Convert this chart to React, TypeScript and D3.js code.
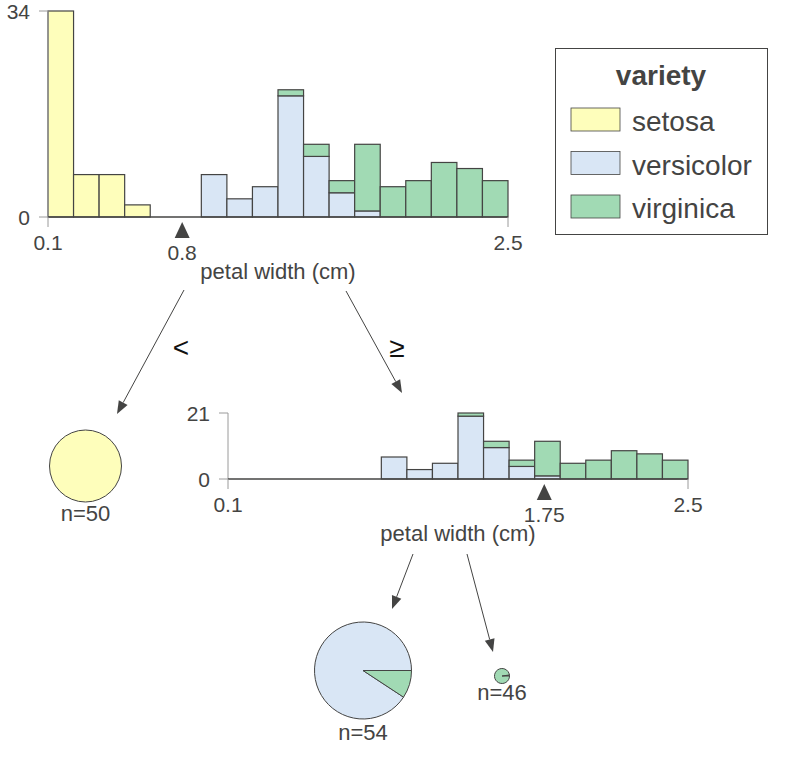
import * as d3 from 'd3';

const CLASSES = ['setosa', 'versicolor', 'virginica'];
const COLORS = ['#FEFEBB', '#D9E6F5', '#a1dab4'];
const EDGE = '#444443';
const AXIS_GRAY = '#9a9a9a';
const FONT = '"Liberation Sans", Arial, Helvetica, sans-serif';

// petal width histogram, 18 bins from 0.1 to 2.5
const X_MIN = 0.1;
const X_MAX = 2.5;
const N_BINS = 18;
const SETOSA = [34, 7, 7, 2, 0, 0, 0, 0, 0, 0, 0, 0, 0, 0, 0, 0, 0, 0];
const VERSICOLOR = [0, 0, 0, 0, 0, 0, 7, 3, 5, 20, 10, 4, 1, 0, 0, 0, 0, 0];
const VIRGINICA = [0, 0, 0, 0, 0, 0, 0, 0, 0, 1, 2, 2, 11, 5, 6, 9, 8, 6];
const EMPTY = VERSICOLOR.map(() => 0);

const ROOT_SPLIT = 0.8;
const NODE_SPLIT = 1.75;
const FEATURE = 'petal width (cm)';

// leaf class counts
const LEAF_LEFT = [50, 0, 0];
const LEAF_MID = [0, 49, 5];
const LEAF_RIGHT = [0, 1, 45];

interface HistProps {
  left: number;
  right: number;
  axisY: number;
  topY: number;
  series: number[][];
  split: number;
}

function Histogram({ left, right, axisY, topY, series, split }: HistProps) {
  const edges = d3.range(N_BINS + 1).map(i => X_MIN + (i * (X_MAX - X_MIN)) / N_BINS);
  const rows = d3.range(N_BINS).map(i => {
    const r: Record<string, number> = { bin: i };
    CLASSES.forEach((c, k) => { r[c] = series[k][i]; });
    return r;
  });
  const stacked = d3.stack<Record<string, number>>().keys(CLASSES)(rows);
  const yMax = d3.max(rows, r => CLASSES.reduce((s, c) => s + r[c], 0)) ?? 1;

  const x = d3.scaleLinear().domain([X_MIN, X_MAX]).range([left, right]);
  const y = d3.scaleLinear().domain([0, yMax]).range([axisY, topY]);
  const sx = x(split);

  return (
    <g>
      {stacked.map((layer, k) =>
        layer.map((d, i) => {
          if (d[1] - d[0] <= 0) return null;
          return (
            <rect key={`${k}-${i}`}
              x={x(edges[i])} y={y(d[1])}
              width={x(edges[i + 1]) - x(edges[i])} height={y(d[0]) - y(d[1])}
              fill={COLORS[k]} stroke={EDGE} strokeWidth={1.2} />
          );
        })
      )}
      {/* y axis */}
      <line x1={left} x2={left} y1={topY} y2={axisY} stroke={AXIS_GRAY} strokeWidth={1} />
      {[yMax, 0].map(t => (
        <g key={t}>
          <line x1={left - 9} x2={left} y1={y(t)} y2={y(t)} stroke={AXIS_GRAY} strokeWidth={1} />
          <text x={left - 18} y={y(t)} dy="0.36em" textAnchor="end" fontSize={21} fill={EDGE} fontFamily={FONT}>{t}</text>
        </g>
      ))}
      {/* x axis */}
      <line x1={left} x2={right} y1={axisY} y2={axisY} stroke={EDGE} strokeWidth={1.3} />
      {[X_MIN, X_MAX].map(t => (
        <g key={t}>
          <line x1={x(t)} x2={x(t)} y1={axisY} y2={axisY + 10} stroke={AXIS_GRAY} strokeWidth={1} />
          <text x={x(t)} y={axisY + 33} textAnchor="middle" fontSize={21} fill={EDGE} fontFamily={FONT}>{t}</text>
        </g>
      ))}
      <path d={`M${sx},${axisY + 5}L${sx + 7.5},${axisY + 21}L${sx - 7.5},${axisY + 21}Z`} fill={EDGE} />
      <text x={sx} y={axisY + 43} textAnchor="middle" fontSize={21} fill={EDGE} fontFamily={FONT}>{split}</text>
      <text x={(left + right) / 2} y={axisY + 62} textAnchor="middle" fontSize={22} fill={EDGE} fontFamily={FONT}>{FEATURE}</text>
    </g>
  );
}

function Pie({ cx, cy, r, counts, labelY }: { cx: number; cy: number; r: number; counts: number[]; labelY: number }) {
  const n = d3.sum(counts);
  const slices = d3.pie<number>().sort(null).value(v => v)
    .startAngle(Math.PI / 2).endAngle(Math.PI / 2 - 2 * Math.PI)(counts);
  const arc = d3.arc<d3.PieArcDatum<number>>().innerRadius(0).outerRadius(r);
  const nonZero = counts.filter(c => c > 0).length;
  return (
    <g>
      <g transform={`translate(${cx},${cy})`}>
        {nonZero === 1
          ? <circle r={r} fill={COLORS[counts.findIndex(c => c > 0)]} stroke={EDGE} strokeWidth={1} />
          : slices.map((s, i) => s.value > 0 && (
            <path key={i} d={arc(s) ?? ''} fill={COLORS[i]} stroke={EDGE} strokeWidth={1} strokeLinejoin="round" />
          ))}
      </g>
      <text x={cx} y={labelY} textAnchor="middle" fontSize={22} fill={EDGE} fontFamily={FONT}>n={n}</text>
    </g>
  );
}

function Arrow({ x1, y1, x2, y2 }: { x1: number; y1: number; x2: number; y2: number }) {
  const a = Math.atan2(y2 - y1, x2 - x1);
  const len = 13;
  const hw = 5;
  const bx = x2 - len * Math.cos(a);
  const by = y2 - len * Math.sin(a);
  const px = -Math.sin(a) * hw;
  const py = Math.cos(a) * hw;
  return (
    <g>
      <line x1={x1} y1={y1} x2={bx} y2={by} stroke={EDGE} strokeWidth={1} />
      <path d={`M${x2},${y2}L${bx + px},${by + py}L${bx - px},${by - py}Z`} fill={EDGE} />
    </g>
  );
}

export default function App() {
  return (
    <svg width={791} height={758} viewBox="0 0 791 758"
      style={{ position: 'absolute', left: 0, top: 0, background: '#fff' }}>
      <rect width={791} height={758} fill="#fff" />
      <Histogram left={48} right={508} axisY={217} topY={11}
        series={[SETOSA, VERSICOLOR, VIRGINICA]} split={ROOT_SPLIT} />
      <Histogram left={228} right={688} axisY={479} topY={413}
        series={[EMPTY, VERSICOLOR, VIRGINICA]} split={NODE_SPLIT} />

      <Arrow x1={184} y1={290} x2={117} y2={414} />
      <Arrow x1={346} y1={291} x2={402} y2={393} />
      <Arrow x1={413} y1={554} x2={392} y2={609} />
      <Arrow x1={467} y1={554} x2={493} y2={652} />
      <text x={181} y={357} textAnchor="middle" fontSize={28} fill="#111" fontFamily={FONT}>&lt;</text>
      <text x={397} y={357} textAnchor="middle" fontSize={28} fill="#111" fontFamily={FONT}>≥</text>

      <Pie cx={85.5} cy={466} r={36} counts={LEAF_LEFT} labelY={521} />
      <Pie cx={363} cy={670.5} r={48.5} counts={LEAF_MID} labelY={740} />
      <Pie cx={502} cy={676} r={7.5} counts={LEAF_RIGHT} labelY={700} />

      {/* legend */}
      <g>
        <rect x={555.5} y={48.5} width={212} height={186} fill="#fff" stroke={EDGE} strokeWidth={1} />
        <text x={661} y={85} textAnchor="middle" fontSize={28} fontWeight="bold" fill={EDGE} fontFamily={FONT}>variety</text>
        {CLASSES.map((c, i) => (
          <g key={c} transform={`translate(0, ${i * 43.5})`}>
            <rect x={571} y={108} width={49} height={23} fill={COLORS[i]} stroke={EDGE} strokeWidth={0.8} />
            <text x={632} y={131} fontSize={28} fill={EDGE} fontFamily={FONT}>{c}</text>
          </g>
        ))}
      </g>
    </svg>
  );
}
